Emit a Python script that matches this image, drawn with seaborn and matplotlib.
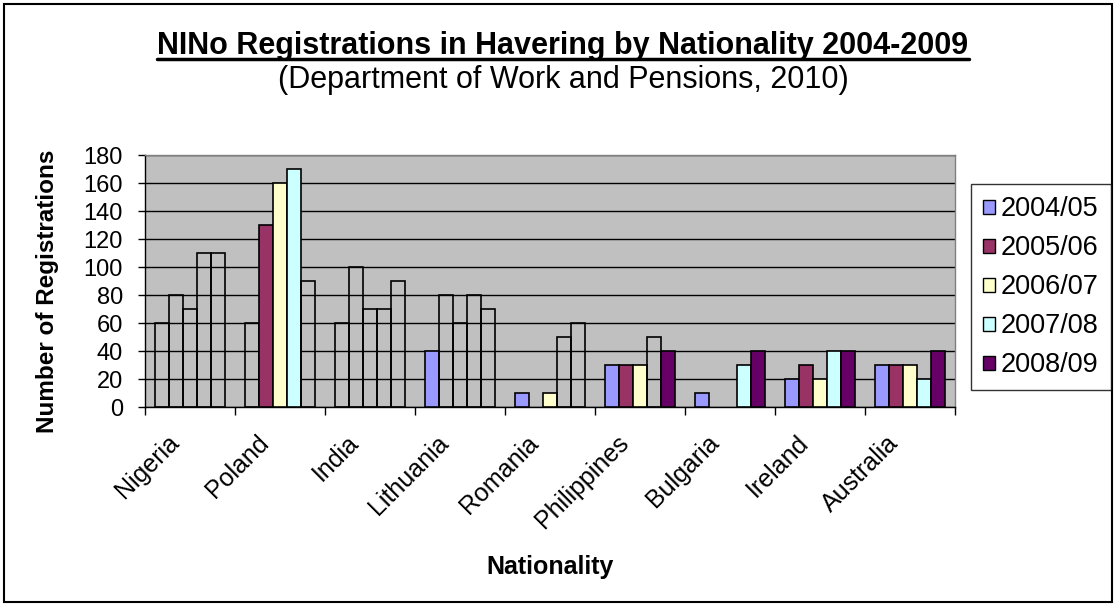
import matplotlib
matplotlib.use("Agg")
import matplotlib.pyplot as plt
import seaborn as sns
import pandas as pd
from matplotlib.patches import Rectangle, Patch
from matplotlib.lines import Line2D
from matplotlib.transforms import ScaledTranslation

nationalities = ["Nigeria", "Poland", "India", "Lithuania", "Romania",
                 "Philippines", "Bulgaria", "Ireland", "Australia"]
years = ["2004/05", "2005/06", "2006/07", "2007/08", "2008/09"]

y2004 = [60, 60, 60, 40, 10, 30, 10, 20, 30]
y2005 = [80, 130, 100, 80, 0, 30, 0, 30, 30]
y2006 = [70, 160, 70, 60, 10, 30, 0, 20, 30]
y2007 = [110, 170, 70, 80, 50, 50, 30, 40, 20]
y2008 = [110, 90, 90, 70, 60, 40, 40, 40, 40]

# bars that are drawn without fill in the original chart
hollow2004 = [True, True, True, False, False, False, False, False, False]
hollow2005 = [True, False, True, True, False, False, False, False, False]
hollow2006 = [True, False, True, True, False, False, False, False, False]
hollow2007 = [True, False, True, True, True, True, False, False, False]
hollow2008 = [True, True, True, True, True, False, False, False, False]

colors = ["#9999FF", "#993366", "#FFFFCC", "#CCFFFF", "#660066"]

series = [y2004, y2005, y2006, y2007, y2008]
hollow = [hollow2004, hollow2005, hollow2006, hollow2007, hollow2008]

rows = []
for yr, vals in zip(years, series):
    for nat, v in zip(nationalities, vals):
        rows.append({"Nationality": nat, "Year": yr, "Count": v})
df = pd.DataFrame(rows)

sns.set_style("white")
plt.rcParams['font.family'] = ['Liberation Sans', 'DejaVu Sans']
plt.rcParams['text.color'] = 'black'
plt.rcParams['axes.labelcolor'] = 'black'
plt.rcParams['xtick.color'] = 'black'
plt.rcParams['ytick.color'] = 'black'

fig = plt.figure(figsize=(11.17, 6.04), dpi=100)
ax = fig.add_axes([145 / 1117, 1 - 407 / 604, 810 / 1117, 252 / 604])
ax.set_facecolor("#C0C0C0")

sns.barplot(data=df, x="Nationality", y="Count", hue="Year", palette=colors,
            hue_order=years, order=nationalities, width=5 / 6.5, saturation=1,
            edgecolor="black", linewidth=1.2, legend=False, ax=ax, zorder=3)

for cont, flags in zip(ax.containers, hollow):
    for bar, h in zip(cont, flags):
        if h:
            bar.set_facecolor("none")
        if bar.get_height() == 0:
            bar.set_visible(False)

ax.set_ylim(0, 180)
ax.set_xlim(-0.5, len(nationalities) - 0.5)
ax.set_yticks(range(0, 181, 20))
ax.yaxis.grid(True, color="black", linewidth=1, zorder=1)
ax.set_axisbelow(True)
ax.tick_params(axis="y", labelsize=17, length=5, width=1, direction="out", left=True, pad=11)
ax.tick_params(axis="x", labelsize=18, length=0, pad=23)
ax.set_xticks(range(len(nationalities)))
ax.set_xticklabels(nationalities, rotation=45, ha="right", va="center",
                   rotation_mode="anchor")
ax.set_xticks([i + 0.5 for i in range(-1, len(nationalities))], minor=True)
ax.tick_params(axis="x", which="minor", length=6, width=1, direction="out", bottom=True)

# nudge the rotated category labels to the left like the original
shift = ScaledTranslation(-15 / 100, 0, fig.dpi_scale_trans)
for lbl in ax.get_xticklabels():
    lbl.set_transform(lbl.get_transform() + shift)

for s in ["top", "right"]:
    ax.spines[s].set_color("#808080")
for s in ["left", "bottom"]:
    ax.spines[s].set_color("black")
for s in ax.spines.values():
    s.set_linewidth(1)

ax.set_xlabel("Nationality", fontsize=18, fontweight="bold", va="center", ha="center")
ax.xaxis.set_label_coords(0.5, -(567 - 407) / 252)
ax.set_ylabel("Number of Registrations", fontsize=17.5, fontweight="bold",
              va="center", ha="center")
ax.yaxis.set_label_coords(-(145 - 48) / 810, (407 - 291) / 252)

handles = [Patch(facecolor=c, edgecolor="black", linewidth=1) for c in colors]
leg = fig.legend(handles, years, loc="upper left",
                 bbox_to_anchor=(971 / 1117, 1 - 184 / 604), fontsize=19.5,
                 frameon=True, fancybox=False, edgecolor="black",
                 handlelength=0.42, handleheight=0.42, handletextpad=0.22,
                 labelspacing=0.48, borderpad=0.45, borderaxespad=0)
leg.get_frame().set_linewidth(1)

title = fig.text(0.504, 1 - 46 / 604, "NINo Registrations in Havering by Nationality 2004-2009",
                 ha="center", va="center", fontsize=22, fontweight="bold")
fig.text(0.504, 1 - 80 / 604, "(Department of Work and Pensions, 2010)",
         ha="center", va="center", fontsize=22)

fig.canvas.draw()
bb = title.get_window_extent().transformed(fig.transFigure.inverted())
fig.add_artist(Line2D([bb.x0, bb.x1], [bb.y0 + 0.003, bb.y0 + 0.003],
                      transform=fig.transFigure, color="black", linewidth=2.5))

fig.add_artist(Rectangle((4 / 1117, 2 / 604), 1108 / 1117, 598 / 604,
                         transform=fig.transFigure, fill=False,
                         edgecolor="black", linewidth=1.5))

fig.savefig("out.png", dpi=100)
